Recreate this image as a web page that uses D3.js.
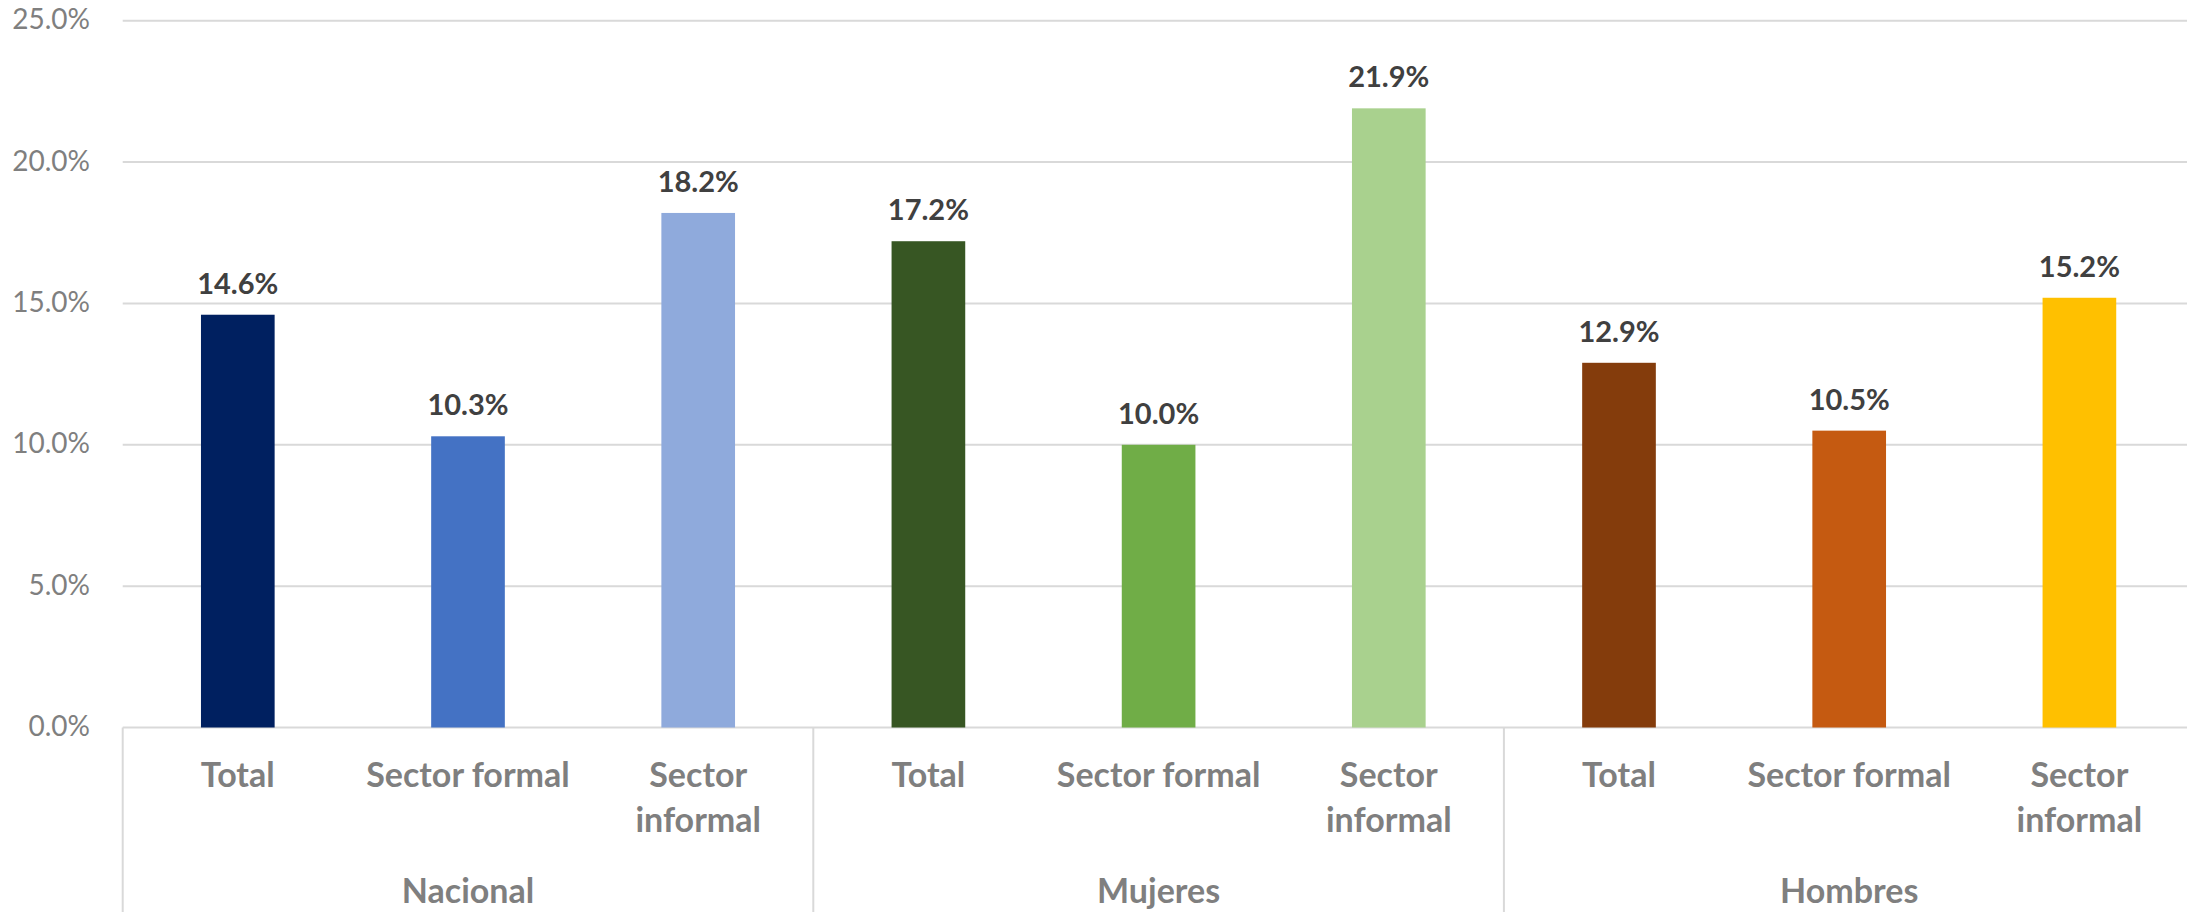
<!DOCTYPE html>
<html>
<head>
<meta charset="utf-8">
<script src="https://cdn.jsdelivr.net/npm/d3@7"></script>
<style>
  html, body { margin: 0; padding: 0; background: #fff; }
  svg { display: block; font-family: Lato, "Open Sans", sans-serif; }
</style>
</head>
<body>
<svg id="chart" width="2187" height="912"></svg>
<script>
// groups along the bottom and the three sectors in each
var groups = ["Nacional", "Mujeres", "Hombres"];
var sectors = ["Total", "Sector formal", "Sector informal"];

// values in percent, one list per group
var nacional = [14.6, 10.3, 18.2];
var mujeres = [17.2, 10.0, 21.9];
var hombres = [12.9, 10.5, 15.2];

var yTicks = [0, 5, 10, 15, 20, 25];

// bar colours per group
var nacionalColors = ["#002060", "#4472C4", "#8FAADC"];
var mujeresColors = ["#375623", "#70AD47", "#A9D18E"];
var hombresColors = ["#843C0C", "#C55A11", "#FFC000"];

// flatten into one row per bar
var series = [nacional, mujeres, hombres];
var palettes = [nacionalColors, mujeresColors, hombresColors];
var rows = [];
groups.forEach(function (g, gi) {
  sectors.forEach(function (s, si) {
    rows.push({ key: g + "|" + s, group: g, sector: s, value: series[gi][si], color: palettes[gi][si] });
  });
});

var svg = d3.select("#chart");
var left = 122.7, step = 230.2;
var y0 = 727.5, yTop = 20.7;

var x = d3.scaleBand()
  .domain(rows.map(function (d) { return d.key; }))
  .range([left, left + step * rows.length])
  .paddingInner(0.68)
  .paddingOuter(0.34);

var y = d3.scaleLinear().domain([0, 25]).range([y0, yTop]);

// gridlines
svg.append("g").selectAll("line")
  .data(yTicks)
  .join("line")
  .attr("x1", left)
  .attr("x2", 2187)
  .attr("y1", function (d) { return y(d); })
  .attr("y2", function (d) { return y(d); })
  .style("stroke", "#d9d9d9")
  .style("stroke-width", 2);

// y tick labels
svg.append("g").selectAll("text")
  .data(yTicks)
  .join("text")
  .attr("x", 90)
  .attr("y", function (d) { return y(d) - 2.5; })
  .attr("text-anchor", "end")
  .attr("dominant-baseline", "central")
  .style("font-size", "28px")
  .style("fill", "#7f7f7f")
  .text(function (d) { return d3.format(".1f")(d) + "%"; });

// bars
svg.append("g").selectAll("rect")
  .data(rows)
  .join("rect")
  .attr("x", function (d) { return x(d.key); })
  .attr("width", x.bandwidth())
  .attr("y", function (d) { return y(d.value); })
  .attr("height", function (d) { return y0 - y(d.value); })
  .attr("fill", function (d) { return d.color; });

// value labels
svg.append("g").selectAll("text")
  .data(rows)
  .join("text")
  .attr("x", function (d) { return x(d.key) + x.bandwidth() / 2; })
  .attr("y", function (d) { return y(d.value) - 21; })
  .attr("text-anchor", "middle")
  .style("font-size", "29px")
  .style("font-weight", "bold")
  .style("fill", "#404040")
  .text(function (d) { return d3.format(".1f")(d.value) + "%"; });

// category labels, wrapped like the original
var cat = svg.append("g").selectAll("text")
  .data(rows)
  .join("text")
  .attr("text-anchor", "middle")
  .style("font-size", "34px")
  .style("font-weight", "bold")
  .style("fill", "#7f7f7f");

cat.each(function (d) {
  var lines = d.sector === "Sector informal" ? ["Sector", "informal"] : [d.sector];
  var cx = x(d.key) + x.bandwidth() / 2;
  d3.select(this).selectAll("tspan")
    .data(lines)
    .join("tspan")
    .attr("x", cx)
    .attr("y", function (l, i) { return 786.7 + i * 45; })
    .text(function (l) { return l; });
});

// group separators and names
var groupWidth = step * sectors.length;
svg.append("g").selectAll("line")
  .data(groups)
  .join("line")
  .attr("x1", function (d, i) { return left + i * groupWidth; })
  .attr("x2", function (d, i) { return left + i * groupWidth; })
  .attr("y1", y0)
  .attr("y2", 912)
  .style("stroke", "#d9d9d9")
  .style("stroke-width", 2);

svg.append("g").selectAll("text")
  .data(groups)
  .join("text")
  .attr("x", function (d, i) { return left + i * groupWidth + groupWidth / 2; })
  .attr("y", 903)
  .attr("text-anchor", "middle")
  .style("font-size", "34px")
  .style("font-weight", "bold")
  .style("fill", "#7f7f7f")
  .text(function (d) { return d; });
</script>
</body>
</html>
